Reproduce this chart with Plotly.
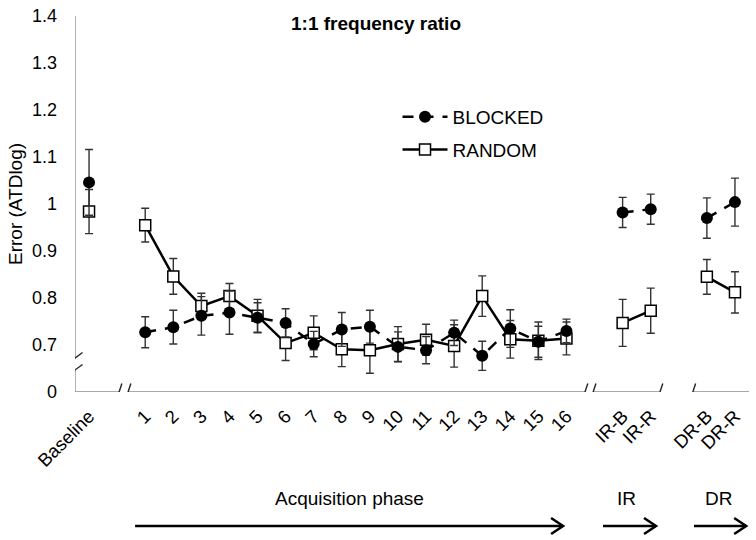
import plotly.graph_objects as go

# ---------------- data ----------------
groups = [
    ["Baseline"],
    [str(i) for i in range(1, 17)],
    ["IR-B", "IR-R"],
    ["DR-B", "DR-R"],
]
blocked = [1.046,
           0.727, 0.738, 0.762, 0.769, 0.758, 0.747, 0.702, 0.733,
           0.739, 0.696, 0.689, 0.726, 0.677, 0.735, 0.707, 0.730,
           0.982, 0.989,
           0.970, 1.004]
blocked_err = [0.070,
               0.033, 0.036, 0.041, 0.046, 0.032, 0.030, 0.027, 0.036,
               0.035, 0.032, 0.029, 0.027, 0.031, 0.040, 0.033, 0.025,
               0.032, 0.032,
               0.043, 0.051]
random_ = [0.984,
           0.955, 0.846, 0.783, 0.804, 0.762, 0.704, 0.726, 0.691,
           0.689, 0.702, 0.711, 0.698, 0.804, 0.712, 0.709, 0.714,
           0.747, 0.773,
           0.845, 0.812]
random_err = [0.047,
              0.036, 0.038, 0.027, 0.027, 0.035, 0.037, 0.036, 0.037,
              0.049, 0.037, 0.033, 0.045, 0.043, 0.040, 0.040, 0.035,
              0.050, 0.048,
              0.037, 0.044]
ytick_vals = [0.6, 0.7, 0.8, 0.9, 1.0, 1.1, 1.2, 1.3, 1.4]
ytick_text = ["0", "0.7", "0.8", "0.9", "1", "1.1", "1.2", "1.3", "1.4"]

# ---------------- positions (gap of one slot between groups) ----------------
xs, labels, gi = [], [], []
pos = 0
for g, grp in enumerate(groups):
    for lab in grp:
        xs.append(pos)
        labels.append(lab)
        gi.append(g)
        pos += 1
    pos += 1


def with_gaps(vals, errs):
    """insert None between groups so lines break"""
    ox, oy, oe = [], [], []
    for i, v in enumerate(vals):
        if i > 0 and gi[i] != gi[i - 1]:
            ox.append(None); oy.append(None); oe.append(None)
        ox.append(xs[i]); oy.append(v); oe.append(errs[i])
    return ox, oy, oe


FONT = "Liberation Sans, Arial, sans-serif"
fig = go.Figure()

rx, ry, re = with_gaps(random_, random_err)
fig.add_trace(go.Scatter(
    x=rx, y=ry, name="RANDOM", mode="lines+markers", connectgaps=False,
    line=dict(color="black", width=2.5),
    marker=dict(symbol="square", size=11, color="white",
                line=dict(color="black", width=1.5)),
    error_y=dict(type="data", array=re, color="#333333", thickness=1.4, width=4),
    legendgroup="r", legendrank=2,
))
bx, by, be = with_gaps(blocked, blocked_err)
fig.add_trace(go.Scatter(
    x=bx, y=by, name="BLOCKED", mode="lines+markers", connectgaps=False,
    line=dict(color="black", width=2.5, dash="11px,9px"),
    marker=dict(symbol="circle", size=12, color="black"),
    error_y=dict(type="data", array=be, color="#333333", thickness=1.4, width=4),
    legendgroup="b", legendrank=1,
))

AX = "#8c8c8c"
shapes = []
# x axis line segments (with breaks)
for a, b in [(-0.5, 1.07), (1.39, 17.66), (17.95, 20.33), (21.50, 23.5)]:
    shapes.append(dict(type="line", xref="x", yref="y", x0=a, x1=b, y0=0.6, y1=0.6,
                       line=dict(color=AX, width=1.3)))
# y axis line segments (with break)
for a, b in [(0.6, 0.6468), (0.6723, 1.4)]:
    shapes.append(dict(type="line", xref="x", yref="y", x0=-0.5, x1=-0.5, y0=a, y1=b,
                       line=dict(color=AX, width=1.3)))
# break slashes on x axis
dxu = 2.8 / 28.08
dyu = 8.5 / 470.0
for cx in [1.07, 1.39, 17.66, 17.95, 20.33, 21.50]:
    shapes.append(dict(type="line", xref="x", yref="y", x0=cx - dxu, x1=cx + dxu,
                       y0=0.6 - dyu, y1=0.6 + dyu, line=dict(color="#222", width=1.4)))
# break slashes on y axis
for cy in [0.6723, 0.6468]:
    shapes.append(dict(type="line", xref="x", yref="y", x0=-0.5 - 7.5 / 28.08, x1=-0.5 + 7.5 / 28.08,
                       y0=cy - 5.5 / 470, y1=cy + 5.5 / 470, line=dict(color="#222", width=1.4)))
# arrows below axis
ay = -0.3564
hx = 12 / 28.08
hy = 8 / 376
for a, b in [(1.64, 16.88), (18.30, 20.19), (21.54, 23.40)]:
    shapes.append(dict(type="line", xref="x", yref="paper", x0=a, x1=b, y0=ay, y1=ay,
                       line=dict(color="black", width=2.5)))
    shapes.append(dict(type="path", xref="x", yref="paper",
                       path=f"M {b-hx},{ay+hy} L {b},{ay} L {b-hx},{ay-hy}",
                       line=dict(color="black", width=2.5)))

annotations = [
    dict(text="<b>1:1 frequency ratio</b>", xref="paper", yref="paper", x=0.447, y=0.981,
         xanchor="center", yanchor="middle",
         showarrow=False, font=dict(size=19, color="black", family=FONT)),
    dict(text="Error (ATDlog)", xref="paper", yref="paper", x=-0.089, y=0.5, textangle=-90,
         xanchor="center", yanchor="middle",
         showarrow=False, font=dict(size=19, color="black", family=FONT)),
    dict(text="Acquisition phase", xref="x", yref="paper", x=9.29, y=-0.282,
         xanchor="center", yanchor="middle",
         showarrow=False, font=dict(size=19, color="black", family=FONT)),
    dict(text="IR", xref="x", yref="paper", x=19.12, y=-0.282,
         xanchor="center", yanchor="middle",
         showarrow=False, font=dict(size=19, color="black", family=FONT)),
    dict(text="DR", xref="x", yref="paper", x=22.43, y=-0.282,
         xanchor="center", yanchor="middle",
         showarrow=False, font=dict(size=19, color="black", family=FONT)),
]

fig.update_layout(
    width=756, height=540,
    margin=dict(l=75, r=7, t=16, b=148, autoexpand=False),
    paper_bgcolor="white", plot_bgcolor="white",
    font=dict(family=FONT, color="black", size=18),
    showlegend=True,
    legend=dict(x=0.4785, y=0.782, xanchor="left", yanchor="top",
                traceorder="grouped", tracegroupgap=5, itemwidth=45,
                bgcolor="rgba(0,0,0,0)", font=dict(size=19, family=FONT)),
    xaxis=dict(range=[-0.5, 23.5], tickvals=xs, ticktext=labels, tickangle=-45,
               showgrid=False, zeroline=False, showline=False, ticks="",
               ticklabelstandoff=9,
               automargin=False, tickfont=dict(size=18.5, family=FONT)),
    yaxis=dict(range=[0.6, 1.4], tickvals=ytick_vals, ticktext=ytick_text,
               showgrid=False, zeroline=False, showline=False, ticks="",
               ticklabelstandoff=17, automargin=False,
               tickfont=dict(size=18, family=FONT)),
    shapes=shapes, annotations=annotations,
)

fig.write_html("out.html", config={"displayModeBar": False},
               post_script="document.body.style.margin='0';document.body.style.padding='0';")
